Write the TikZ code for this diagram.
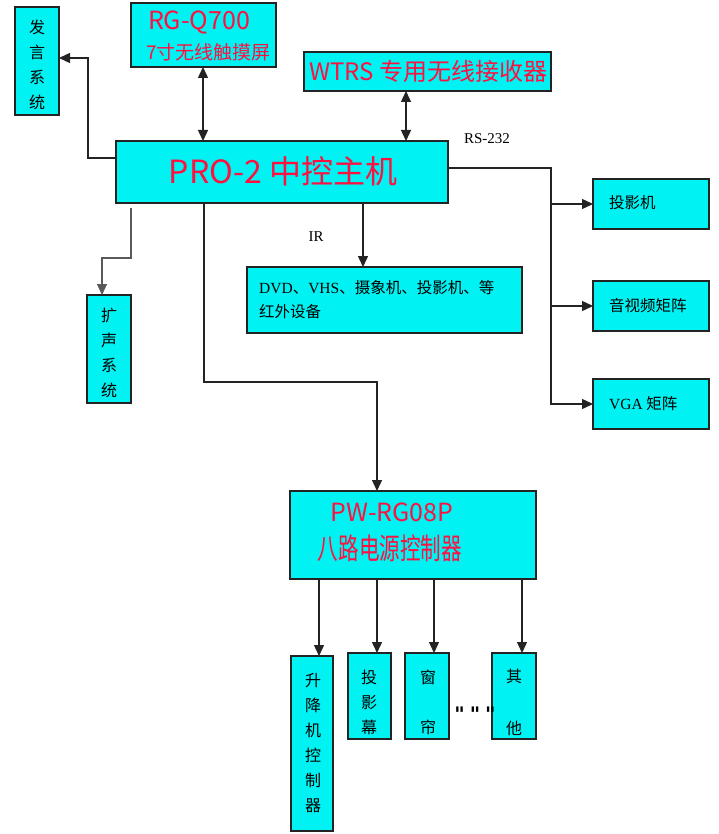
\documentclass[tikz,border=0pt]{standalone}
\usepackage{fontspec}
\setmainfont{Liberation Serif}
\newfontfamily\cjk{Noto Sans CJK SC}
\newfontfamily\djv{DejaVu Sans}
\usetikzlibrary{arrows.meta}
\definecolor{boxcyan}{RGB}{0,242,242}
\definecolor{redtxt}{RGB}{255,16,64}
\definecolor{linec}{RGB}{35,35,35}
\begin{document}
\begin{tikzpicture}[x=1pt,y=-1pt,
  box/.style={draw=linec,line width=1.3pt,fill=boxcyan,inner sep=0pt,outer sep=0pt,anchor=north west},
  redt/.style={text=redtxt,inner sep=0pt},
  blk/.style={text=black,inner sep=0pt,font=\cjk\fontsize{15.5}{24}\selectfont},
  vert/.style={blk,align=center,font=\cjk\fontsize{16}{25}\selectfont},
  ln/.style={draw=linec,line width=1.4pt},
  arr/.style={ln,-{Triangle[length=11pt,width=10pt]}},
  darr/.style={ln,{Triangle[length=11pt,width=10pt]}-{Triangle[length=11pt,width=10pt]}},
  thinarr/.style={draw=black!65,line width=1.1pt,-{Triangle[length=11pt,width=10pt]}}]
\useasboundingbox (0,0) rectangle (718,834);

% boxes
\node[box,minimum width=44pt,minimum height=108pt] (fayan) at (15,7) {};
\node[box,minimum width=145pt,minimum height=64pt] (rg) at (131,3) {};
\node[box,minimum width=247pt,minimum height=39pt] (wtrs) at (304,52) {};
\node[box,minimum width=332pt,minimum height=62pt] (pro) at (116,141) {};
\node[box,minimum width=44pt,minimum height=108pt] (kuo) at (87,295) {};
\node[box,minimum width=275pt,minimum height=66pt] (dvd) at (247,267) {};
\node[box,minimum width=116pt,minimum height=50pt] (proj) at (593,179) {};
\node[box,minimum width=116pt,minimum height=50pt] (avm) at (593,281) {};
\node[box,minimum width=116pt,minimum height=50pt] (vga) at (593,379) {};
\node[box,minimum width=246pt,minimum height=88pt] (pw) at (290,491) {};
\node[box,minimum width=42pt,minimum height=175pt] (lift) at (291,656) {};
\node[box,minimum width=43pt,minimum height=86pt] (screen) at (348,653) {};
\node[box,minimum width=44pt,minimum height=86pt] (curtain) at (405,653) {};
\node[box,minimum width=44pt,minimum height=86pt] (other) at (492,653) {};

% texts
\node[vert] (tfayan) at (37,64.5) {发\\言\\系\\统};
\node[redt,font=\cjk\fontsize{25}{30}\selectfont] (trg1) at (199,22) {RG-Q700};
\node[redt,font=\cjk\fontsize{19}{24}\selectfont] (trg2) at (208.5,52) {7寸无线触摸屏};
\node[redt,font=\cjk\fontsize{24}{30}\selectfont] (twtrs) at (428,71) {WTRS 专用无线接收器};
\node[redt,font=\cjk\fontsize{32}{38}\selectfont] (tpro) at (283,171) {PRO-2 中控主机};
\node[text=black,inner sep=0pt,font=\fontsize{15}{18}\selectfont] (trs) at (487,139) {RS-232};
\node[text=black,inner sep=0pt,font=\fontsize{15}{18}\selectfont] (tir) at (316,237) {IR};
\node[vert] (tkuo) at (109,353) {扩\\声\\系\\统};
\node[blk,align=left,anchor=west] (tdvd) at (259,300) {\textrm{DVD}、\textrm{VHS}、摄象机、投影机、等\\红外设备};
\node[blk,anchor=west] (tproj) at (609,203) {投影机};
\node[blk,anchor=west] (tavm) at (609,306) {音视频矩阵};
\node[blk,anchor=west] (tvga) at (609,404) {\textrm{VGA} 矩阵};
\node[redt,font=\cjk\fontsize{25}{30}\selectfont] (tpw1) at (392,512) {PW-RG08P};
\node[redt,font=\cjk\fontsize{21}{26}\selectfont] (tpw2) at (390,548) {\scalebox{0.98}[1.4]{八路电源控制器}};
\node[vert] (tlift) at (313,743) {升\\降\\机\\控\\制\\器};
\node[vert] (tscreen) at (369,702) {投\\影\\幕};
\node[vert] (tcurtain) at (428,702) {窗\\[25pt]帘};
\node[vert] (tother) at (514,702) {其\\[27pt]他};
\node[text=black,inner sep=0pt,font=\djv\bfseries\itshape\fontsize{20}{22}\selectfont] (tdots) at (475,714) {"\kern5pt"\kern5pt"};

% connectors
\coordinate (c1) at (88,58);
\draw[arr] ([yshift=-17pt]pro.north west) -| (c1) -- (c1 -| fayan.east);
\coordinate (xa) at (203,0);
\draw[darr] (rg.south -| xa) -- (pro.north -| xa);
\coordinate (xw) at (406,0);
\draw[darr] (wtrs.south -| xw) -- (pro.north -| xw);
\coordinate (b1) at (551,168);
\draw[arr] (pro.east |- b1) -| (b1 |- vga.west) -- (vga.west);
\draw[arr] (b1 |- proj.west) -- (proj.west);
\draw[arr] (b1 |- avm.west) -- (avm.west);
\coordinate (xi) at (363,0);
\draw[arr] (pro.south -| xi) -- (dvd.north -| xi);
\coordinate (k1) at (131,0);
\coordinate (k2) at (102,258);
\draw[thinarr,shorten <=5pt] (pro.south -| k1) |- (k2) -- (k2 |- kuo.north);
\coordinate (p1) at (204,382);
\coordinate (p2) at (377,382);
\draw[arr] (pro.south -| p1) -- (p1) -- (p2) -- (p2 |- pw.north);
\coordinate (q1) at (319,0);
\coordinate (q2) at (377,0);
\coordinate (q3) at (434,0);
\coordinate (q4) at (522,0);
\draw[arr] (pw.south -| q1) -- (lift.north -| q1);
\draw[arr] (pw.south -| q2) -- (screen.north -| q2);
\draw[arr] (pw.south -| q3) -- (curtain.north -| q3);
\draw[arr] (pw.south -| q4) -- (other.north -| q4);
\end{tikzpicture}
\end{document}
